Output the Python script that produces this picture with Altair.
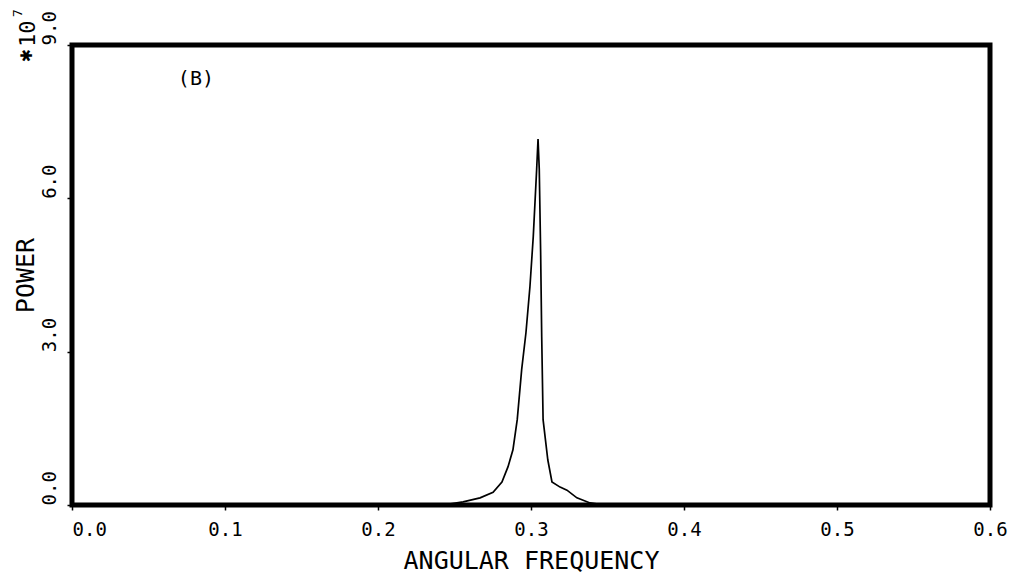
import altair as alt
import pandas as pd

# Angular frequency (x) and power in units of 1e7 (y)
freq = [0.000, 0.050, 0.100, 0.150, 0.200, 0.230, 0.2425, 0.2556, 0.2667,
        0.2752, 0.2810, 0.2850, 0.2882, 0.2910, 0.2939, 0.2967, 0.2993,
        0.3015, 0.3037, 0.3046, 0.3054, 0.3063, 0.3070, 0.3079, 0.3110,
        0.3137, 0.3190, 0.3235, 0.3300, 0.3386, 0.3480, 0.3700, 0.4000,
        0.4500, 0.5000, 0.5500, 0.6000]
power = [0.00, 0.00, 0.00, 0.00, 0.00, 0.00, 0.00, 0.06, 0.14,
         0.25, 0.45, 0.75, 1.08, 1.67, 2.65, 3.37, 4.27,
         5.26, 6.57, 7.16, 6.57, 4.94, 3.29, 1.67, 0.88,
         0.45, 0.35, 0.29, 0.14, 0.04, 0.00, 0.00, 0.00,
         0.00, 0.00, 0.00, 0.00]

x_ticks = [0.0, 0.1, 0.2, 0.3, 0.4, 0.5, 0.6]
y_ticks = [0.0, 3.0, 6.0, 9.0]

panel_label = ["(B)"]
panel_label_x = [0.081]
panel_label_y = [8.33]

FONT = "DejaVu Sans Mono"

df = pd.DataFrame({"freq": freq, "power": power})

line = alt.Chart(df).mark_line(color="black", strokeWidth=1.7).encode(
    x=alt.X(
        "freq:Q",
        scale=alt.Scale(domain=[0, 0.6], nice=False, zero=False),
        axis=alt.Axis(
            title="ANGULAR FREQUENCY",
            values=x_ticks,
            format=".1f",
            grid=False,
            domain=False,
            ticks=True,
            tickSize=5,
            tickWidth=1.5,
            tickColor="black",
            labelFont=FONT,
            labelFontSize=19,
            labelColor="black",
            labelPadding=10,
            labelBaseline="top",
            labelAlign=alt.expr("datum.value == 0 ? 'left' : 'center'"),
            titleFont=FONT,
            titleFontSize=25,
            titleFontWeight="normal",
            titleColor="black",
            titleBaseline="alphabetic",
            titleY=63,
        ),
    ),
    y=alt.Y(
        "power:Q",
        scale=alt.Scale(domain=[0, 9], nice=False),
        axis=alt.Axis(
            title="POWER",
            values=y_ticks,
            format=".1f",
            grid=False,
            domain=False,
            tickSize=5,
            tickWidth=1.5,
            tickColor="black",
            labelFont=FONT,
            labelFontSize=19,
            labelColor="black",
            labelAngle=-90,
            labelAlign="left",
            labelBaseline="alphabetic",
            labelPadding=12,
            titleFont=FONT,
            titleFontSize=25,
            titleFontWeight="normal",
            titleColor="black",
            titleBaseline="alphabetic",
            titleX=-39,
        ),
    ),
)

lab_df = pd.DataFrame({"t": panel_label, "x": panel_label_x, "y": panel_label_y})
label = alt.Chart(lab_df).mark_text(
    font=FONT, fontSize=20, color="black", align="center", baseline="middle"
).encode(x="x:Q", y="y:Q", text="t:N")

star = alt.Chart(pd.DataFrame({"t": ["✱"]})).mark_text(
    font="DejaVu Sans", fontSize=16, color="black", angle=270, align="center",
    baseline="middle"
).encode(x=alt.value(-45), y=alt.value(10.5), text="t:N")

mult = alt.Chart(pd.DataFrame({"t": ["10"]})).mark_text(
    font=FONT, fontSize=22, color="black", angle=270, align="left",
    baseline="alphabetic"
).encode(x=alt.value(-37), y=alt.value(2), text="t:N")

sup = alt.Chart(pd.DataFrame({"t": ["7"]})).mark_text(
    font=FONT, fontSize=13, color="black", angle=270, align="left",
    baseline="alphabetic"
).encode(x=alt.value(-50), y=alt.value(-28), text="t:N")

chart = alt.layer(line, label, star, mult, sup).properties(
    width=918,
    height=460,
    autosize=alt.AutoSizeParams(type="none"),
    padding={"left": 64, "top": 37, "right": 20, "bottom": 76},
    background="white",
).configure_view(stroke="black", strokeWidth=5)

chart.save("out.html", embed_options={"renderer": "svg", "actions": False})
